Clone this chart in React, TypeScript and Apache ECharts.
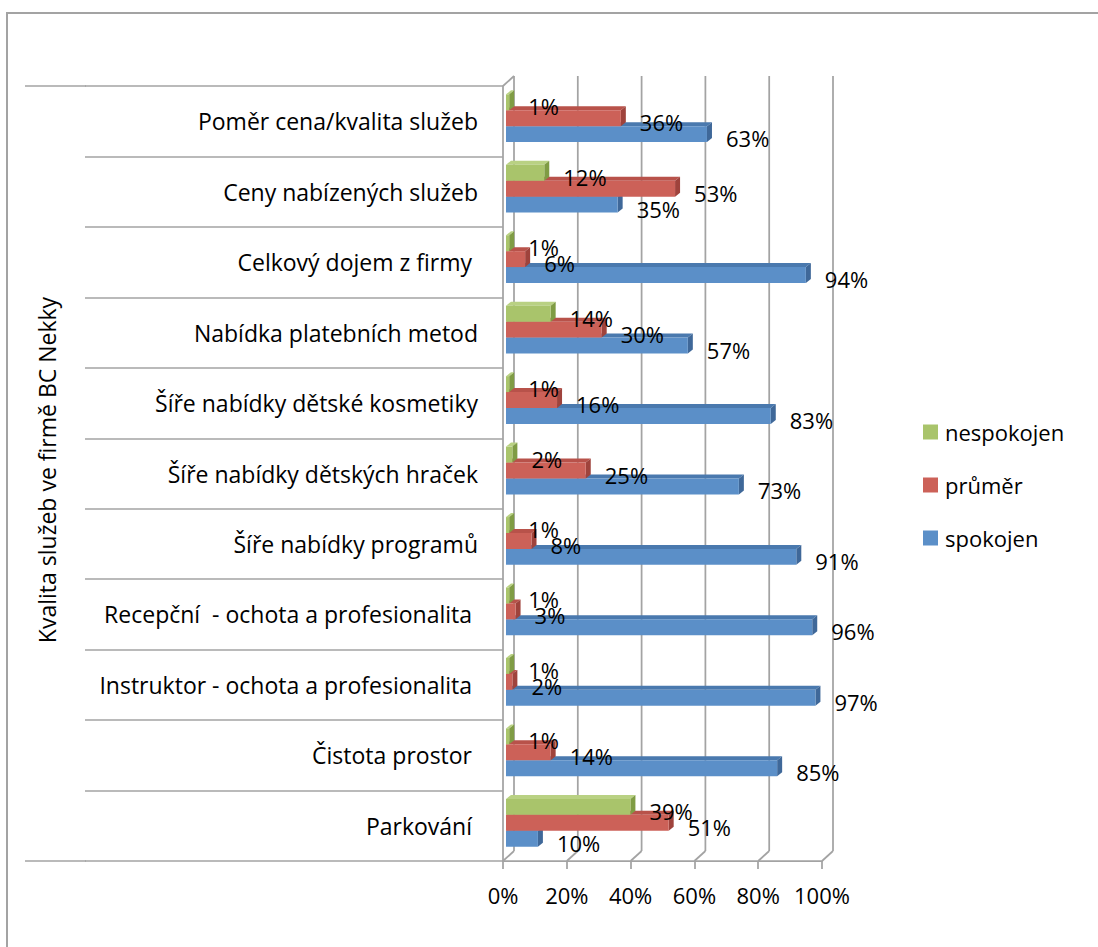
import React, { useEffect, useRef } from "react";
import * as echarts from "echarts";

// Survey categories, listed top to bottom
const categories = [
  "Poměr cena/kvalita služeb",
  "Ceny nabízených služeb",
  "Celkový dojem z firmy ",
  "Nabídka platebních metod",
  "Šíře nabídky dětské kosmetiky",
  "Šíře nabídky dětských hraček",
  "Šíře nabídky programů",
  "Recepční  - ochota a profesionalita ",
  "Instruktor - ochota a profesionalita ",
  "Čistota prostor ",
  "Parkování ",
];

// Percentages per answer
const nespokojen = [1, 12, 1, 14, 1, 2, 1, 1, 1, 1, 39];
const prumer = [36, 53, 6, 30, 16, 25, 8, 3, 2, 14, 51];
const spokojen = [63, 35, 94, 57, 83, 73, 91, 96, 97, 85, 10];

const xTicks = [0, 20, 40, 60, 80, 100];

const FONT = '"Open Sans", "Liberation Sans", sans-serif';
const GRID_COLOR = "#a3a3a3";

// 3D look: bar depth and the wall offset of the back plane
const BAR_DX = 5;
const BAR_DY = 4;
const WALL_DX = 11;
const WALL_DY = 10;

type Shade = { front: string; top: string; side: string };

const shades: Record<string, Shade> = {
  nespokojen: { front: "#a9c46b", top: "#b9d183", side: "#7f9c44" },
  "průměr": { front: "#cc6158", top: "#b8524a", side: "#9f433c" },
  spokojen: { front: "#5b8fc8", top: "#4a79ae", side: "#3f6899" },
};

function barSeries(name: string, values: number[], slot: number, z: number) {
  const shade = shades[name];
  return {
    type: "custom",
    name,
    z,
    silent: true,
    itemStyle: { color: shade.front },
    encode: { x: 0, y: 1 },
    data: values.map((v, i) => [v, i]),
    renderItem: (params: any, api: any) => {
      const v = api.value(0);
      const ci = api.value(1);
      const start = api.coord([0, ci]);
      const end = api.coord([v, ci]);
      const band = api.size([0, 1])[1];
      const h = band * 0.226;
      const cy = start[1] - 3;
      const top = cy - 1.5 * h + slot * h;
      const x0 = start[0] + 3;
      const x1 = end[0] + 3;
      return {
        type: "group",
        children: [
          {
            type: "polygon",
            shape: {
              points: [
                [x0, top],
                [x0 + BAR_DX, top - BAR_DY],
                [x1 + BAR_DX, top - BAR_DY],
                [x1, top],
              ],
            },
            style: { fill: shade.top },
          },
          {
            type: "polygon",
            shape: {
              points: [
                [x1, top],
                [x1 + BAR_DX, top - BAR_DY],
                [x1 + BAR_DX, top + h - BAR_DY],
                [x1, top + h],
              ],
            },
            style: { fill: shade.side },
          },
          {
            type: "rect",
            shape: { x: x0, y: top, width: x1 - x0, height: h },
            style: { fill: shade.front },
          },
          {
            type: "text",
            z2: 20,
            style: {
              text: v + "%",
              x: x1 + 19,
              y: top + h / 2 + 4,
              align: "left",
              verticalAlign: "middle",
              fontSize: 22,
              fontFamily: FONT,
              fill: "#000",
            },
          },
        ],
      };
    },
  };
}

const wallSeries = {
  type: "custom",
  name: "walls",
  z: 1,
  silent: true,
  encode: { x: 0, y: 1 },
  data: xTicks.map((t) => [t, 0]),
  renderItem: (params: any, api: any) => {
    const v = api.value(0);
    const xf = api.coord([v, 0])[0];
    const cs = params.coordSys;
    const top = cs.y;
    const bottom = cs.y + cs.height;
    const xb = xf + WALL_DX;
    const ls = { stroke: GRID_COLOR, lineWidth: 1.75 };
    const children: any[] = [
      {
        type: "line",
        shape: { x1: xb, y1: top - WALL_DY, x2: xb, y2: bottom - WALL_DY },
        style: ls,
      },
      {
        type: "line",
        shape: { x1: xf, y1: bottom, x2: xb, y2: bottom - WALL_DY },
        style: ls,
      },
    ];
    if (v === 0) {
      children.push({
        type: "line",
        shape: { x1: xf, y1: top, x2: xb, y2: top - WALL_DY },
        style: ls,
      });
    }
    return { type: "group", children };
  },
};

export default function App() {
  const ref = useRef<HTMLDivElement>(null);

  useEffect(() => {
    document.body.style.margin = "0";
    if (!ref.current) return;
    const chart = echarts.init(ref.current, null, { renderer: "svg" });
    const gridLeft = 503;
    const gridTop = 86;
    const gridBottom = 861;
    chart.setOption({
      animation: false,
      backgroundColor: "#fff",
      textStyle: { fontFamily: FONT },
      grid: {
        left: gridLeft,
        top: gridTop,
        width: 319,
        height: gridBottom - gridTop,
        containLabel: false,
      },
      legend: {
        orient: "vertical",
        left: 923,
        top: 421,
        padding: 0,
        itemWidth: 15,
        itemHeight: 15,
        itemGap: 31,
        icon: "rect",
        selectedMode: false,
        data: ["nespokojen", "průměr", "spokojen"],
        textStyle: { fontSize: 22, fontFamily: FONT, color: "#000", padding: [0, 0, 0, 2] },
      },
      xAxis: {
        type: "value",
        min: 0,
        max: 100,
        interval: 20,
        splitLine: { show: false },
        axisLine: { show: true, lineStyle: { color: GRID_COLOR, width: 1.75 } },
        axisTick: { show: true, length: 8, lineStyle: { color: GRID_COLOR, width: 1.75 } },
        axisLabel: {
          formatter: "{value}%",
          fontSize: 22,
          fontFamily: FONT,
          color: "#000",
          margin: 23,
        },
      },
      yAxis: {
        type: "category",
        inverse: true,
        data: categories,
        axisLine: { show: true, lineStyle: { color: GRID_COLOR, width: 1.75 } },
        axisTick: { show: true, length: 418, lineStyle: { color: GRID_COLOR, width: 1.5 } },
        axisLabel: {
          fontSize: 23,
          fontFamily: FONT,
          color: "#000",
          margin: 25,
          padding: [5, 0, 0, 0],
        },
      },
      graphic: [
        {
          type: "polyline",
          silent: true,
          shape: { points: [[7, 947], [7, 13], [1098, 13]] },
          style: { stroke: GRID_COLOR, lineWidth: 2, fill: "none" },
        },
        {
          type: "line",
          silent: true,
          shape: { x1: 25, y1: gridTop, x2: 86, y2: gridTop },
          style: { stroke: GRID_COLOR, lineWidth: 1.5 },
        },
        {
          type: "line",
          silent: true,
          shape: { x1: 25, y1: gridBottom, x2: 86, y2: gridBottom },
          style: { stroke: GRID_COLOR, lineWidth: 1.5 },
        },
        {
          type: "text",
          silent: true,
          x: 47,
          y: 470,
          rotation: Math.PI / 2,
          style: {
            text: "Kvalita služeb ve firmě BC Nekky",
            fontSize: 23,
            fontFamily: FONT,
            fill: "#000",
            align: "center",
            verticalAlign: "middle",
          },
        },
      ],
      series: [
        wallSeries,
        barSeries("spokojen", spokojen, 2, 3),
        barSeries("průměr", prumer, 1, 4),
        barSeries("nespokojen", nespokojen, 0, 5),
      ],
    });
    return () => chart.dispose();
  }, []);

  return <div ref={ref} style={{ width: 1098, height: 947 }} />;
}
